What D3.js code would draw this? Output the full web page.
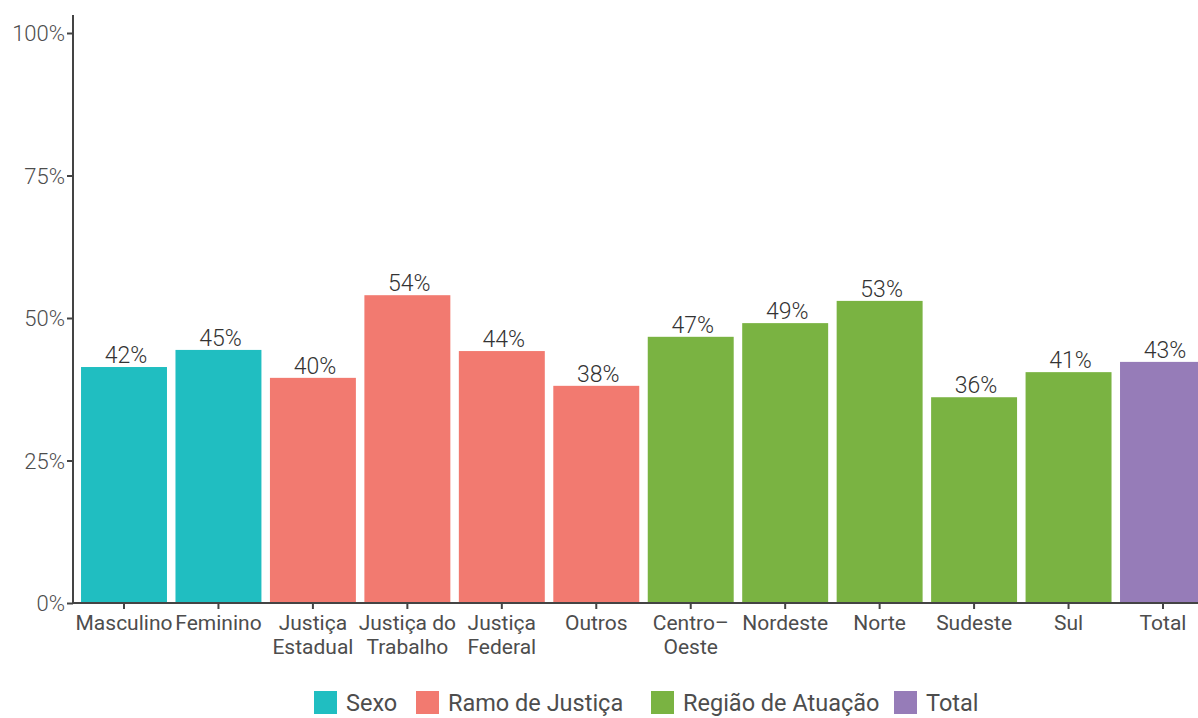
<!DOCTYPE html>
<html>
<head>
<meta charset="utf-8">
<script src="https://cdn.jsdelivr.net/npm/d3@7"></script>
<style>
  body { margin: 0; background: #fff; }
  text { font-family: Inter, Roboto, sans-serif; fill: #4d4d4d; }
  .thin { font-family: "Roboto", sans-serif; font-weight: 300; }
</style>
</head>
<body>
<svg id="chart" width="1198" height="718"></svg>
<script>
// categories, groups and values
const categories = ["Masculino", "Feminino", "Justiça\nEstadual", "Justiça do\nTrabalho", "Justiça\nFederal",
  "Outros", "Centro–\nOeste", "Nordeste", "Norte", "Sudeste", "Sul", "Total"]
const groups = ["Sexo", "Sexo", "Ramo de Justiça", "Ramo de Justiça", "Ramo de Justiça", "Ramo de Justiça",
  "Região de Atuação", "Região de Atuação", "Região de Atuação", "Região de Atuação", "Região de Atuação", "Total"]
const values = [41.4, 44.4, 39.5, 54.0, 44.2, 38.1, 46.7, 49.1, 53.0, 36.1, 40.5, 42.3]
const valueLabels = ["42%", "45%", "40%", "54%", "44%", "38%", "47%", "49%", "53%", "36%", "41%", "43%"]
const legendGroups = ["Sexo", "Ramo de Justiça", "Região de Atuação", "Total"]
const groupColors = ["#20bec1", "#f27a70", "#7ab342", "#967cb8"]
const yTicks = [0, 25, 50, 75, 100]

let svg = d3.select("#chart")
let data = categories.map((c, i) => ({ cat: c, group: groups[i], value: values[i], label: valueLabels[i] }))

// Scales
let x = d3.scaleBand().domain(categories).range([73, 1214]).paddingInner(0.09).paddingOuter(0.085)
let y = d3.scaleLinear().domain([0, 100]).range([603, 33])
let color = d3.scaleOrdinal().domain(legendGroups).range(groupColors)

// Bars
svg.append("g").selectAll("rect")
  .data(data)
  .enter().append("rect")
    .attr("x", d => x(d.cat))
    .attr("y", d => y(d.value))
    .attr("width", x.bandwidth())
    .attr("height", d => y(0) - y(d.value))
    .attr("fill", d => color(d.group))

// Value labels
svg.append("g").selectAll("text")
  .data(data)
  .enter().append("text")
    .attr("class", "thin")
    .attr("x", d => x(d.cat) + x.bandwidth() / 2 + 2)
    .attr("y", d => y(d.value) - 4)
    .attr("text-anchor", "middle")
    .style("font-size", "23px")
    .style("fill", "#333")
    .text(d => d.label)

// Y axis
let yAxis = svg.append("g")
  .attr("transform", "translate(73,0)")
  .call(d3.axisLeft(y).tickValues(yTicks).tickFormat(d => d + "%").tickSize(6).tickPadding(2))
yAxis.select(".domain").attr("stroke", "#444").attr("stroke-width", 2).attr("d", "M0,15V603")
yAxis.selectAll(".tick line").attr("stroke", "#444").attr("stroke-width", 2)
yAxis.selectAll(".tick text")
  .attr("class", "thin")
  .style("font-size", "22px").style("fill", "#4d4d4d")
  .attr("dy", "0.35em")

// X axis
let xAxis = svg.append("g")
  .attr("transform", "translate(0,603)")
  .call(d3.axisBottom(x).tickSize(6).tickFormat(""))
xAxis.select(".domain").attr("stroke", "#444").attr("stroke-width", 2).attr("d", "M72,0H1198")
xAxis.selectAll(".tick line").attr("stroke", "#444").attr("stroke-width", 2)
xAxis.selectAll(".tick").append("text")
  .attr("y", 27)
  .attr("text-anchor", "middle")
  .style("font-family", "Roboto, sans-serif")
  .style("font-size", "21px")
  .style("fill", "#4d4d4d")
  .each(function (d) {
    let lines = d.split("\n")
    lines.forEach((ln, i) => {
      d3.select(this).append("tspan").attr("x", 0).attr("dy", i === 0 ? 0 : 24).text(ln)
    })
  })

// Legend
let legendX = [314, 416, 651, 894]
let legend = svg.append("g").selectAll("g")
  .data(legendGroups)
  .enter().append("g")
    .attr("transform", (d, i) => "translate(" + legendX[i] + ",691)")
legend.append("rect")
  .attr("width", 23).attr("height", 23)
  .attr("fill", d => color(d))
legend.append("text")
  .attr("x", 32).attr("y", 20)
  .style("font-family", "Roboto, sans-serif")
  .style("font-size", "23.5px")
  .style("fill", "#4d4d4d")
  .text(d => d)
</script>
</body>
</html>
